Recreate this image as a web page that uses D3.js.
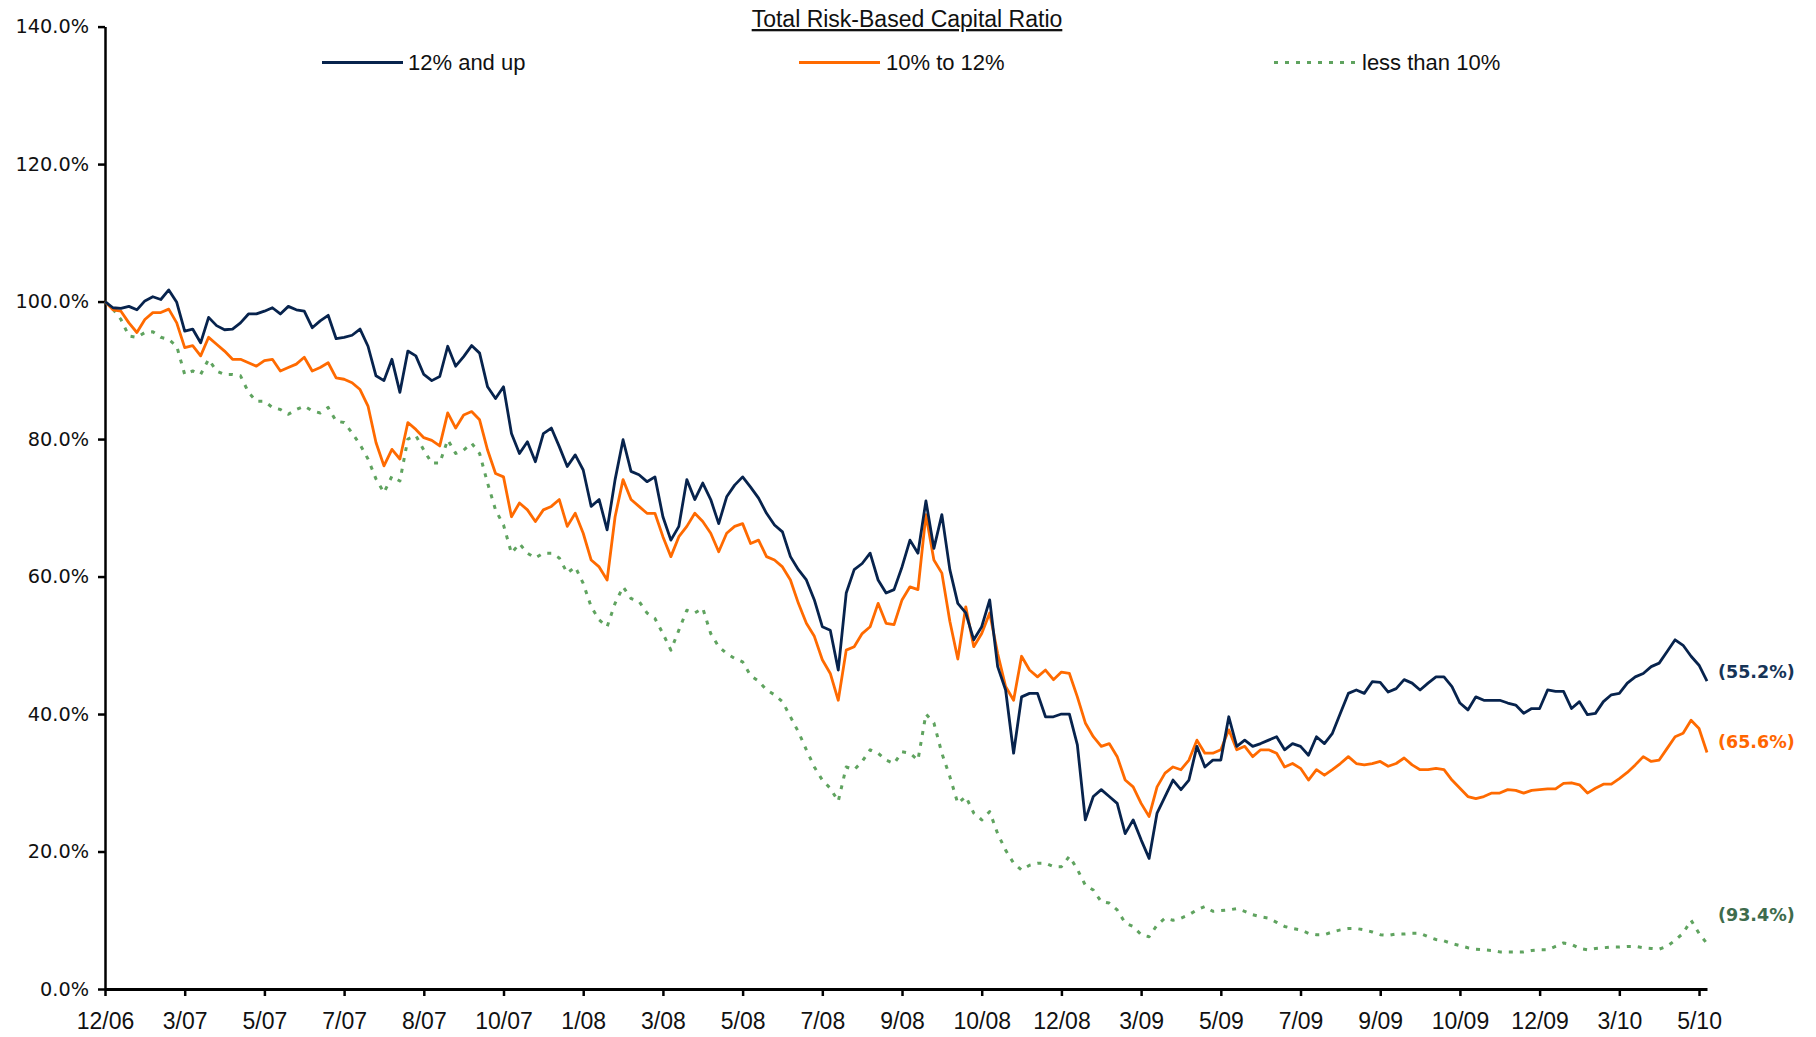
<!DOCTYPE html>
<html>
<head>
<meta charset="utf-8">
<script src="https://cdn.jsdelivr.net/npm/d3@7"></script>
<style>
  html, body { margin: 0; padding: 0; background: #fff; }
  svg { display: block; }
</style>
</head>
<body>
<svg id="chart" width="1816" height="1037"></svg>
<script>
// Category axis labels, one every `tickEvery` observations
const tickLabels = ["12/06","3/07","5/07","7/07","8/07","10/07","1/08","3/08","5/08","7/08",
  "9/08","10/08","12/08","3/09","5/09","7/09","9/09","10/09","12/09","3/10","5/10"];
const tickEvery = 10;

const yTicks = [0, 20, 40, 60, 80, 100, 120, 140];

const seriesNames = ["12% and up", "10% to 12%", "less than 10%"];

// Indexed price performance (start = 100%) by total risk-based capital ratio bucket
const highCap = [
  100,99.1,99.0,99.3,98.8,100.1,100.7,100.3,101.7,99.9,
  95.7,96.0,94.0,97.7,96.5,95.9,96.0,96.9,98.2,98.2,
  98.6,99.1,98.2,99.3,98.8,98.6,96.2,97.2,98.0,94.6,
  94.8,95.1,96.0,93.5,89.2,88.5,91.6,86.8,92.8,92.1,
  89.4,88.5,89.1,93.5,90.6,92.0,93.6,92.5,87.6,85.9,
  87.6,80.8,77.9,79.6,76.7,80.8,81.6,78.9,76.0,77.7,
  75.5,70.2,71.2,66.8,74.1,79.9,75.3,74.8,73.8,74.5,
  68.7,65.3,67.3,74.1,71.2,73.6,71.2,67.7,71.6,73.3,
  74.5,73.0,71.4,69.2,67.5,66.5,62.9,61.0,59.5,56.6,
  52.7,52.2,46.4,57.6,61.0,61.9,63.4,59.5,57.6,58.1,
  61.4,65.3,63.4,71.0,64.1,69.0,61.0,56.1,54.7,50.8,
  52.7,56.6,46.9,43.5,34.3,42.5,43.0,43.0,39.6,39.6,
  40.0,40.0,35.5,24.6,28.0,29.0,28.0,27.0,22.6,24.6,
  21.7,19.0,25.6,28.0,30.4,29.0,30.4,35.3,32.3,33.3,
  33.3,39.6,35.3,36.2,35.3,35.7,36.2,36.7,34.8,35.7,
  35.3,34.0,36.7,35.7,37.2,40.1,43.0,43.5,43.0,44.7,
  44.6,43.2,43.7,45.0,44.5,43.5,44.5,45.4,45.4,44.0,
  41.6,40.6,42.5,42.0,42.0,42.0,41.6,41.3,40.1,40.8,
  40.8,43.5,43.3,43.3,40.8,41.8,39.9,40.1,41.8,42.8,
  43.0,44.5,45.4,45.9,46.9,47.4,49.1,50.8,50.0,48.4,
  47.1,44.8
];

const midCap = [
  100,98.8,98.6,96.9,95.5,97.4,98.4,98.4,98.9,96.9,
  93.3,93.6,92.1,94.8,93.8,92.8,91.6,91.6,91.1,90.6,
  91.4,91.6,89.9,90.4,90.9,91.9,89.9,90.4,91.1,88.9,
  88.7,88.2,87.2,84.8,79.5,76.1,78.5,77.1,82.4,81.4,
  80.2,79.8,79.0,83.8,81.6,83.5,84.0,82.8,78.4,75.0,
  74.5,68.7,70.7,69.7,68.0,69.7,70.2,71.2,67.3,69.2,
  66.3,62.4,61.4,59.5,68.7,74.1,71.2,70.2,69.2,69.2,
  65.8,62.9,65.8,67.3,69.2,68.0,66.3,63.6,66.3,67.3,
  67.7,64.8,65.3,62.9,62.4,61.4,59.5,56.1,53.2,51.3,
  47.9,45.9,42.0,49.3,49.8,51.7,52.7,56.1,53.2,53.0,
  56.6,58.5,58.1,69.0,62.4,60.5,53.5,48.0,55.6,49.8,
  51.7,54.7,48.8,44.0,42.0,48.4,46.4,45.4,46.4,45.0,
  46.1,45.9,42.5,38.7,36.7,35.3,35.7,33.8,30.4,29.4,
  27.0,25.1,29.4,31.4,32.3,31.9,33.3,36.2,34.3,34.3,
  34.8,37.7,34.8,35.3,33.8,34.8,34.8,34.3,32.3,32.8,
  32.1,30.4,31.9,31.1,31.9,32.8,33.8,32.8,32.6,32.8,
  33.1,32.4,32.8,33.6,32.6,31.9,31.9,32.1,31.9,30.4,
  29.2,28.0,27.7,28.0,28.5,28.5,29.0,28.9,28.5,28.9,
  29.0,29.1,29.1,29.9,30.0,29.7,28.5,29.2,29.8,29.8,
  30.6,31.5,32.6,33.8,33.1,33.3,35.0,36.7,37.2,39.1,
  37.9,34.4
];

const lowCap = [
  100,98.9,97.4,95.0,94.8,95.5,95.6,94.8,94.5,93.5,
  89.4,89.9,89.4,91.6,89.9,89.4,89.4,89.2,86.8,85.5,
  85.5,84.6,84.3,83.6,84.3,84.8,84.1,83.8,84.6,82.6,
  82.4,80.9,79.2,77.1,74.2,72.2,74.6,73.9,80.0,80.5,
  78.4,76.5,76.5,79.9,77.9,78.4,79.4,77.9,73.6,69.7,
  67.5,63.4,64.8,63.4,62.7,63.4,63.4,62.7,60.5,61.4,
  59.0,55.6,53.7,52.7,56.1,58.5,56.8,56.4,54.7,53.9,
  51.7,49.3,52.2,55.1,54.7,55.4,51.7,49.8,48.8,48.1,
  47.6,45.6,44.8,43.5,42.8,41.8,39.6,37.4,34.8,32.3,
  30.4,29.2,27.3,32.3,31.9,33.1,34.8,34.3,33.3,32.8,
  34.5,34.3,33.3,40.0,38.7,34.3,30.9,27.0,28.0,25.6,
  24.6,25.8,22.6,20.2,18.3,17.3,18.0,18.3,18.3,17.8,
  17.8,19.3,17.4,15.1,14.4,12.7,12.5,11.5,9.6,9.1,
  7.9,7.6,9.3,10.3,10.0,10.3,10.8,11.5,12.0,11.3,
  11.4,11.5,11.7,11.3,10.8,10.5,10.3,9.7,9.1,8.8,
  8.6,8.1,7.9,7.9,8.3,8.6,8.8,8.8,8.6,8.3,
  7.9,7.8,8.0,8.0,8.1,8.1,7.6,7.2,7.0,6.6,
  6.3,6.0,5.8,5.7,5.6,5.4,5.4,5.4,5.4,5.6,
  5.7,5.7,6.2,6.7,6.5,5.9,5.7,5.9,6.0,6.1,
  6.1,6.2,6.2,6.0,5.9,5.8,6.2,7.1,8.1,10.0,
  8.1,6.6
];

const series = [
  { name: seriesNames[0], values: highCap, color: "#07234d", labelColor: "#163457", dash: null, labelDy: -9 },
  { name: seriesNames[1], values: midCap,  color: "#ff6a00", labelColor: "#ff6600", dash: null, labelDy: -11 },
  { name: seriesNames[2], values: lowCap,  color: "#5fa35f", labelColor: "#3e6b4c", dash: "4,7", labelDy: -29 }
];

const svg = d3.select("#chart");
const plotLeft = 105, plotRight = 1707, plotTop = 26.6, plotBottom = 989;

const x = d3.scaleLinear().domain([0, highCap.length - 1]).range([plotLeft, plotRight]);
const y = d3.scaleLinear().domain([0, 140]).range([plotBottom, plotTop]);

// Title
svg.append("text")
  .attr("x", 907).attr("y", 27)
  .attr("text-anchor", "middle")
  .attr("font-family", "'Liberation Sans', Arial, sans-serif")
  .attr("font-size", 23)
  .attr("text-decoration", "underline")
  .attr("fill", "#111")
  .text("Total Risk-Based Capital Ratio");

// Legend
const legendPos = [
  { x1: 322, x2: 403, tx: 408 },
  { x1: 799, x2: 880, tx: 886 },
  { x1: 1274, x2: 1357, tx: 1362 }
];
const legend = svg.append("g").attr("class", "legend");
series.forEach((s, i) => {
  const p = legendPos[i];
  legend.append("line")
    .attr("x1", p.x1).attr("x2", p.x2).attr("y1", 62.5).attr("y2", 62.5)
    .attr("stroke", s.color).attr("stroke-width", 3)
    .attr("stroke-dasharray", s.dash);
  legend.append("text")
    .attr("x", p.tx).attr("y", 70)
    .attr("font-family", "'Liberation Sans', Arial, sans-serif")
    .attr("font-size", 22)
    .attr("fill", "#111")
    .text(s.name);
});

// Y axis
const yAxis = svg.append("g")
  .attr("transform", `translate(${plotLeft},0)`)
  .call(d3.axisLeft(y).tickValues(yTicks).tickFormat(d => d.toFixed(1) + "%")
    .tickSize(7).tickSizeOuter(0).tickPadding(9));
yAxis.select(".domain").attr("stroke", "#000").attr("stroke-width", 2.5);
yAxis.selectAll(".tick line").attr("stroke", "#000").attr("stroke-width", 2.5);
yAxis.selectAll(".tick text")
  .attr("font-family", "'DejaVu Sans', Verdana, sans-serif")
  .attr("font-size", 19.3)
  .attr("fill", "#111");

// X axis
const xTickValues = tickLabels.map((_, i) => i * tickEvery);
const xAxis = svg.append("g")
  .attr("transform", `translate(0,${plotBottom})`)
  .call(d3.axisBottom(x).tickValues(xTickValues).tickFormat((d, i) => tickLabels[i])
    .tickSize(7).tickSizeOuter(0));
xAxis.select(".domain").attr("stroke", "#000").attr("stroke-width", 3);
xAxis.selectAll(".tick line").attr("stroke", "#000").attr("stroke-width", 2.5);
xAxis.selectAll(".tick text")
  .attr("y", 40).attr("dy", null)
  .attr("font-family", "'Liberation Sans', Arial, sans-serif")
  .attr("font-size", 23)
  .attr("fill", "#111");

// Series lines
const line = d3.line().x((d, i) => x(i)).y(d => y(d)).curve(d3.curveLinear);
const plot = svg.append("g").attr("class", "series");
[series[2], series[1], series[0]].forEach(s => {
  plot.append("path")
    .datum(s.values)
    .attr("fill", "none")
    .attr("stroke", s.color)
    .attr("stroke-width", s.dash ? 3 : 2.8)
    .attr("stroke-linejoin", "round")
    .attr("stroke-dasharray", s.dash)
    .attr("d", line);
});

// End-of-period decline labels
series.forEach(s => {
  const last = s.values[s.values.length - 1];
  svg.append("text")
    .attr("x", 1718)
    .attr("y", y(last) + s.labelDy)
    .attr("dy", "0.35em")
    .attr("font-family", "'DejaVu Sans', Verdana, sans-serif")
    .attr("font-weight", "bold")
    .attr("font-size", 17.5)
    .attr("fill", s.labelColor)
    .text(`(${(100 - last).toFixed(1)}%)`);
});
</script>
</body>
</html>
